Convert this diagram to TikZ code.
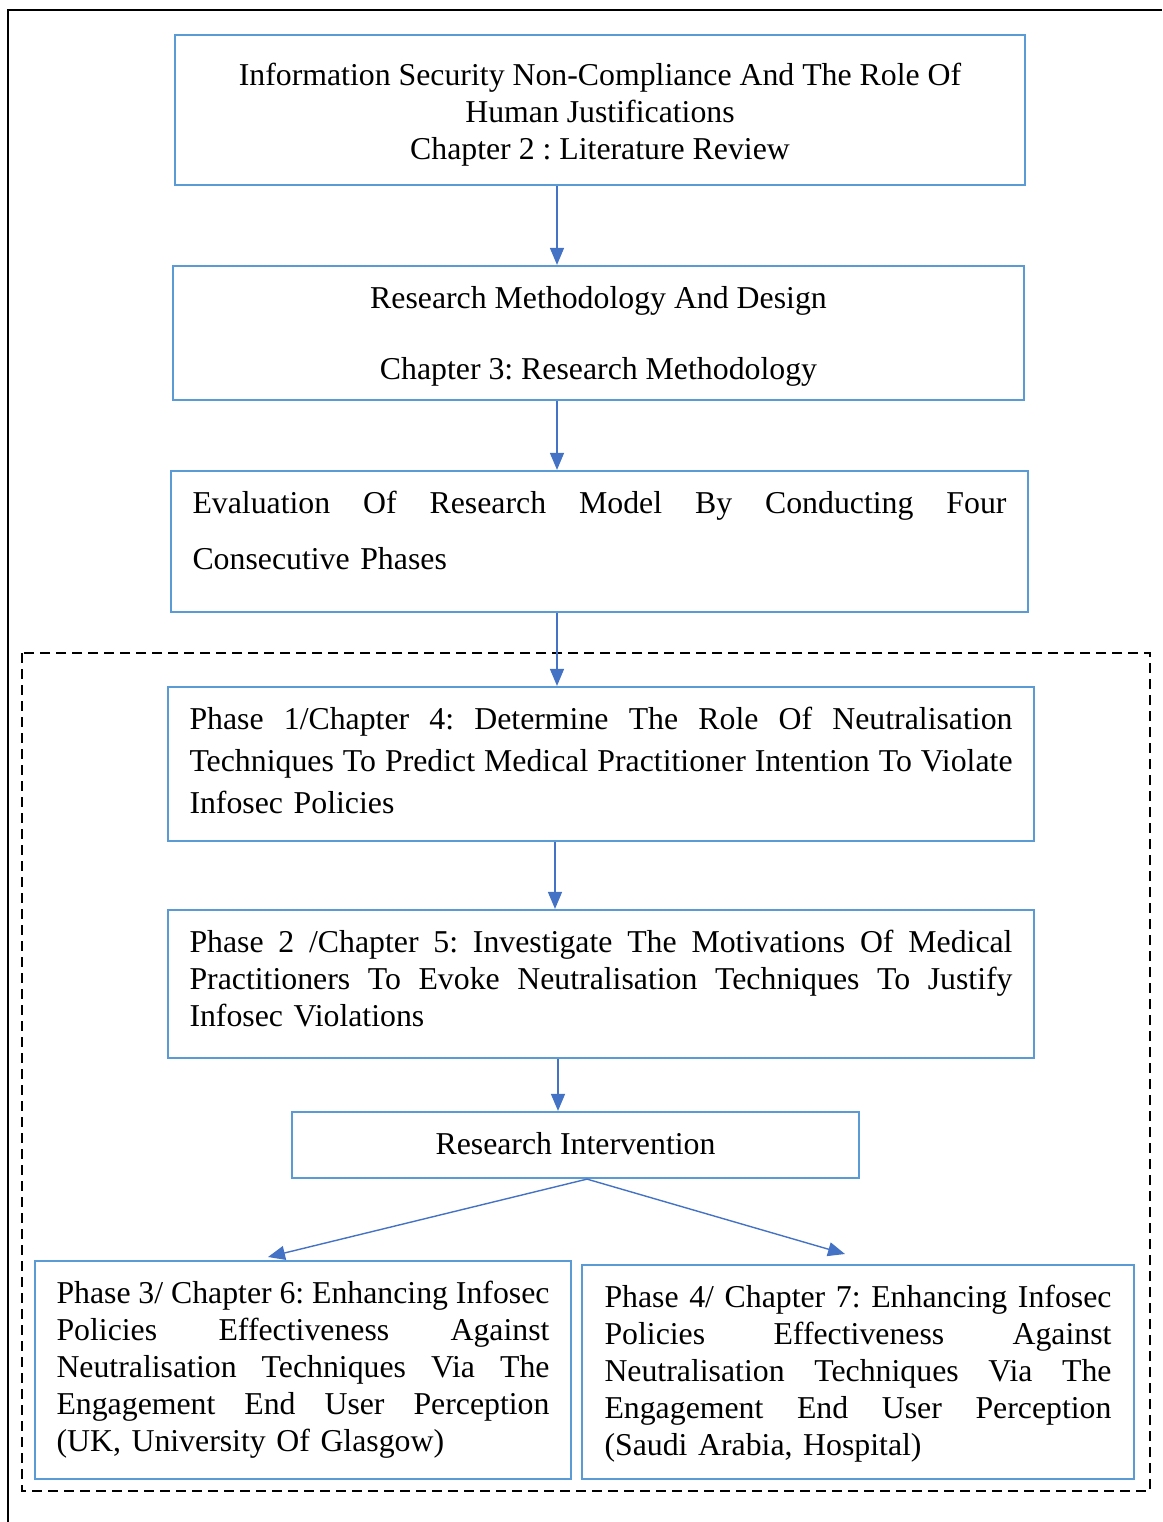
\documentclass[tikz,border=0pt]{standalone}
\usepackage{fontspec}
\setmainfont{Liberation Serif}
\usetikzlibrary{arrows.meta}
\definecolor{boxblue}{HTML}{5B9BD5}
\definecolor{arrowblue}{HTML}{4472C4}
\frenchspacing
% full-width line with stretchable interword spaces
\newcommand{\jl}[1]{\leavevmode\hbox to\hsize{\spaceskip=0.25em plus 1em minus 0.06em\relax #1}}
% struts fixing the height of the first line and the depth of the last one
\newcommand{\topstrut}[1]{\rule{0pt}{#1}}
\newcommand{\botstrut}[1]{\rule[-#1]{0pt}{#1}}
\begin{document}
\begin{tikzpicture}[x=1pt,y=-1pt,
  box/.style={draw=boxblue, line width=2.2pt, inner sep=0pt,
    font=\fontsize{31.8}{37}\selectfont},
  cbox/.style={box, align=center},
  jbox/.style={box, align=left},
  arr/.style={draw=arrowblue, line width=1.4pt, -{Triangle[length=17pt,width=14pt]}}
]
\useasboundingbox (0,0) rectangle (1162,1522);

% frame lines at top and left
\draw[line width=2.3pt] (8,1522) -- (8,10) -- (1162,10);

% dashed region enclosing the four phases
\draw[line width=2pt, dash pattern=on 10pt off 6pt] (22,653) rectangle (1150,1491);

\node[cbox, minimum width=850pt, minimum height=150pt] (b1) at (600,110)
  {\topstrut{36pt}Information Security Non-Compliance And The Role Of\\Human Justifications\\Chapter 2 : Literature Review\botstrut{10pt}};

\node[cbox, minimum width=851pt, minimum height=134pt,
  font=\fontsize{31.8}{35.5}\selectfont] (b2) at (598.5,333)
  {\topstrut{31pt}Research Methodology And Design\\\mbox{}\\Chapter 3: Research Methodology\botstrut{10pt}};

\node[jbox, minimum width=857pt, minimum height=141pt, text width=814pt,
  font=\fontsize{31.8}{56}\selectfont] (b3) at (599.5,541.5)
  {\topstrut{29pt}\jl{Evaluation Of Research Model By Conducting Four}\\Consecutive Phases\botstrut{30pt}};

\node[jbox, minimum width=866pt, minimum height=154pt, text width=823pt,
  font=\fontsize{31.8}{42}\selectfont] (b4) at (601,764)
  {\topstrut{29pt}\jl{Phase 1/Chapter 4: Determine The Role Of Neutralisation}\\
   \jl{Techniques To Predict Medical Practitioner Intention To Violate}\\
   Infosec Policies\botstrut{15pt}};

\node[jbox, minimum width=866pt, minimum height=148pt, text width=823pt] (b5) at (601,984)
  {\topstrut{30pt}\jl{Phase 2 /Chapter 5: Investigate The Motivations Of Medical}\\
   \jl{Practitioners To Evoke Neutralisation Techniques To Justify}\\
   Infosec Violations\botstrut{20pt}};

\node[cbox, minimum width=567pt, minimum height=66pt] (b6) at (575.5,1145)
  {\topstrut{28pt}Research Intervention\botstrut{10pt}};

\node[jbox, minimum width=536pt, minimum height=218pt, text width=493pt] (b7) at (303,1370)
  {\topstrut{29pt}\jl{Phase 3/ Chapter 6: Enhancing Infosec}\\
   \jl{Policies Effectiveness Against}\\
   \jl{Neutralisation Techniques Via The}\\
   \jl{Engagement End User Perception}\\
   (UK, University Of Glasgow)\botstrut{15pt}};

\node[jbox, minimum width=552pt, minimum height=214pt, text width=507pt] (b8) at (858,1372)
  {\topstrut{33pt}\jl{Phase 4/ Chapter 7: Enhancing Infosec}\\
   \jl{Policies Effectiveness Against}\\
   \jl{Neutralisation Techniques Via The}\\
   \jl{Engagement End User Perception}\\
   (Saudi Arabia, Hospital)\botstrut{15pt}};

% connectors
\draw[arr] (b1.south -| 557,0) -- (b2.north -| 557,0);
\draw[arr] (b2.south -| 557,0) -- (b3.north -| 557,0);
\draw[arr] (b3.south -| 557,0) -- (b4.north -| 557,0);
\draw[arr] (b4.south -| 555,0) -- (b5.north -| 555,0);
\draw[arr] (b5.south -| 558,0) -- (b6.north -| 558,0);
\coordinate (t7) at (268,1257);
\coordinate (t8) at (845,1254);
\draw[arr] (b6.south -| 587,0) -- (t7);
\draw[arr] (b6.south -| 587,0) -- (t8);
\end{tikzpicture}
\end{document}
